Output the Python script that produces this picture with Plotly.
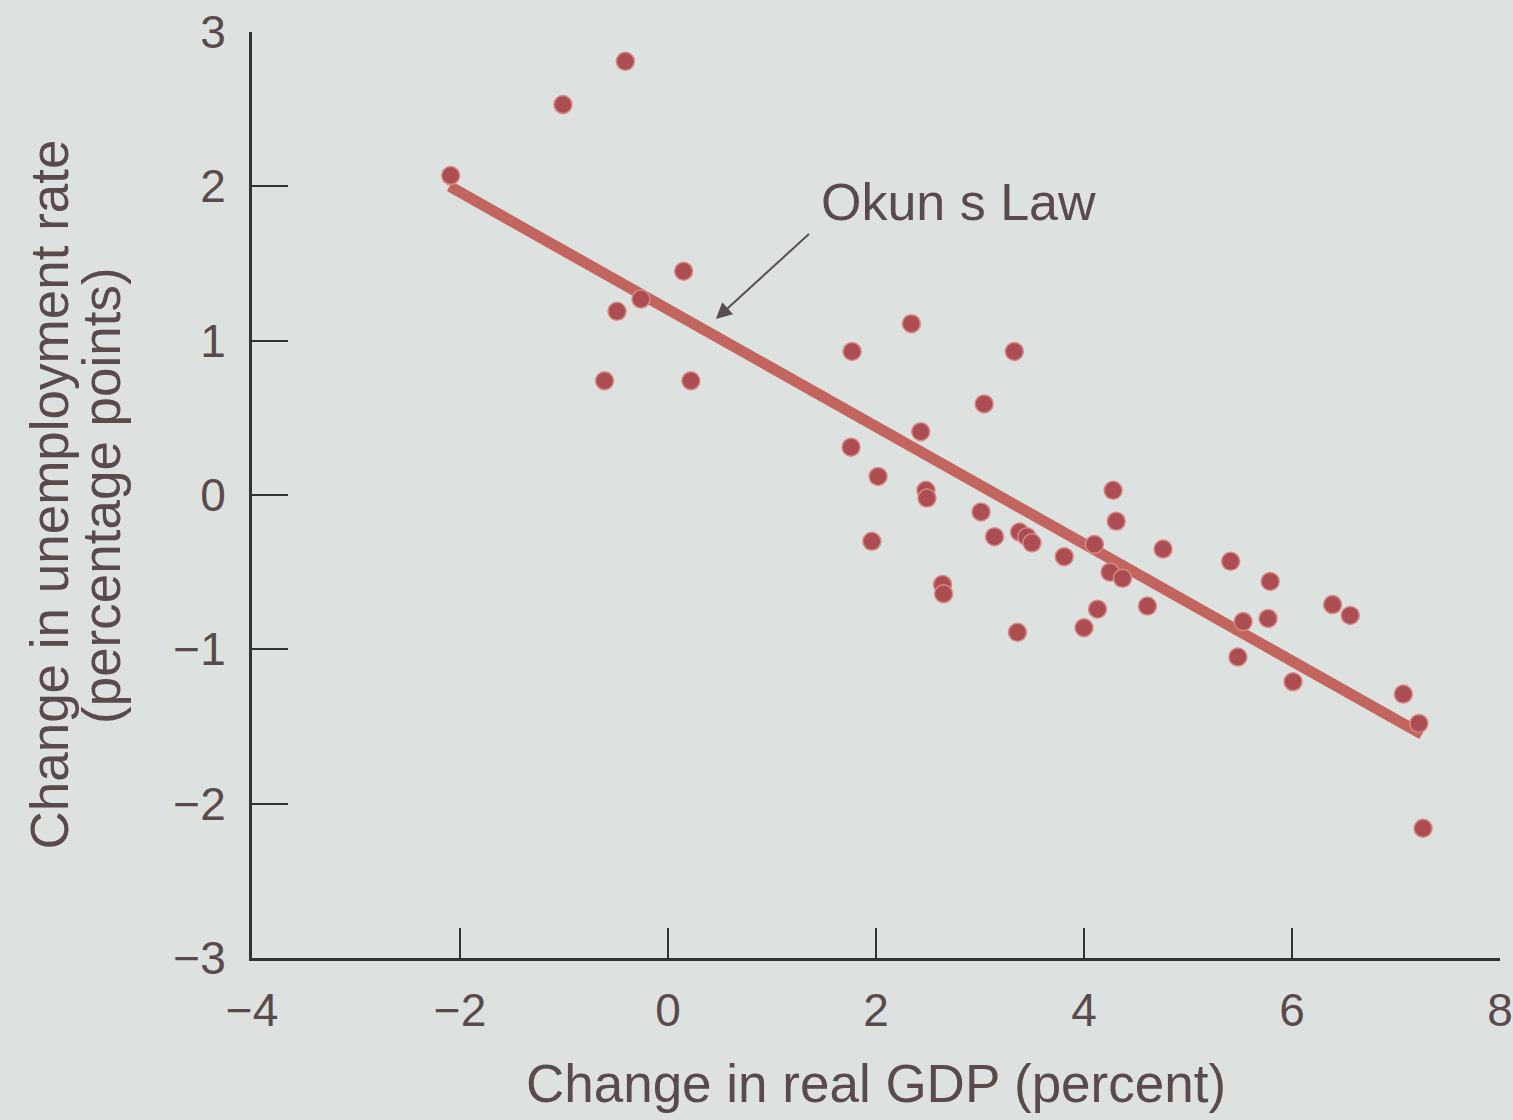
import plotly.graph_objects as go

# Data
gdp_change = [-2.09, -1.01, -0.41, -0.49, -0.26, 0.15, -0.61, 0.22,
              2.34, 1.77, 3.33, 3.04, 2.43, 1.76, 2.02, 2.48, 2.49, 3.01,
              1.96, 3.14, 3.38, 3.45, 3.50, 3.81, 4.10, 4.25, 4.37, 4.28,
              4.31, 4.76, 4.61, 4.13, 4.00, 3.36, 2.64, 2.65,
              5.41, 5.79, 6.39, 6.56, 5.53, 5.77, 5.48, 6.01, 7.07, 7.22, 7.26]
unemp_change = [2.07, 2.53, 2.81, 1.19, 1.27, 1.45, 0.74, 0.74,
                1.11, 0.93, 0.93, 0.59, 0.41, 0.31, 0.12, 0.03, -0.02, -0.11,
                -0.30, -0.27, -0.24, -0.27, -0.31, -0.40, -0.32, -0.50, -0.54, 0.03,
                -0.17, -0.35, -0.72, -0.74, -0.86, -0.89, -0.58, -0.64,
                -0.43, -0.56, -0.71, -0.78, -0.82, -0.80, -1.05, -1.21, -1.29, -1.48, -2.16]

law_x = [-2.1, 7.25]
law_y = [2.0, -1.55]

x_ticks = [-4, -2, 0, 2, 4, 6, 8]
y_ticks = [-3, -2, -1, 0, 1, 2, 3]

bg = "#dde2e1"
txt = "#5a4a4b"
font_family = "Liberation Sans, Arial, sans-serif"

fig = go.Figure()
fig.add_trace(go.Scatter(
    x=law_x, y=law_y, mode="lines",
    line=dict(color="#c3655f", width=11),
    hoverinfo="skip", showlegend=False))
fig.add_trace(go.Scatter(
    x=gdp_change, y=unemp_change, mode="markers",
    marker=dict(size=18, color="#ac4d53", line=dict(color="#d88a84", width=1.5)),
    showlegend=False))

fig.add_annotation(
    x=0.46, y=1.14, ax=1.37, ay=1.70, xref="x", yref="y", axref="x", ayref="y",
    showarrow=True, arrowhead=2, arrowsize=1.6, arrowwidth=2, arrowcolor="#5a4f50",
    text="")
fig.add_annotation(
    x=1.45, y=1.90, xref="x", yref="y", xanchor="left", yanchor="middle",
    showarrow=False, text="Okun s Law",
    font=dict(family=font_family, size=52, color=txt))

# y-axis title as two lines
fig.add_annotation(
    x=-0.163, y=0.5, xref="paper", yref="paper", xanchor="center", yanchor="middle",
    textangle=-90, showarrow=False, text="Change in unemployment rate",
    font=dict(family=font_family, size=53, color=txt))
fig.add_annotation(
    x=-0.121, y=0.5, xref="paper", yref="paper", xanchor="center", yanchor="middle",
    textangle=-90, showarrow=False, text="(percentage points)",
    font=dict(family=font_family, size=53, color=txt))

fig.update_layout(
    width=1513, height=1120,
    margin=dict(l=252, r=13, t=32, b=162, autoexpand=False),
    paper_bgcolor=bg, plot_bgcolor=bg,
    font=dict(family=font_family, color=txt),
    xaxis=dict(
        range=[-4, 8], tickvals=x_ticks, ticks="inside", ticklen=30, tickwidth=2,
        tickcolor="#333333", showline=True, linecolor="#333333", linewidth=3,
        showgrid=False, zeroline=False, mirror=False, automargin=False,
        tickfont=dict(size=46, color=txt), ticklabelstandoff=10,
        title=dict(text="Change in real GDP (percent)", standoff=30,
                   font=dict(size=53, color=txt))),
    yaxis=dict(
        range=[-3, 3], tickvals=y_ticks, ticks="inside", ticklen=36, tickwidth=2,
        tickcolor="#333333", showline=True, linecolor="#333333", linewidth=3,
        showgrid=False, zeroline=False, mirror=False, automargin=False,
        tickfont=dict(size=46, color=txt), ticklabelstandoff=14),
)

fig.write_html("out.html", config={"displayModeBar": False},
               post_script="document.body.style.margin='0';document.body.style.background='%s';" % bg)
